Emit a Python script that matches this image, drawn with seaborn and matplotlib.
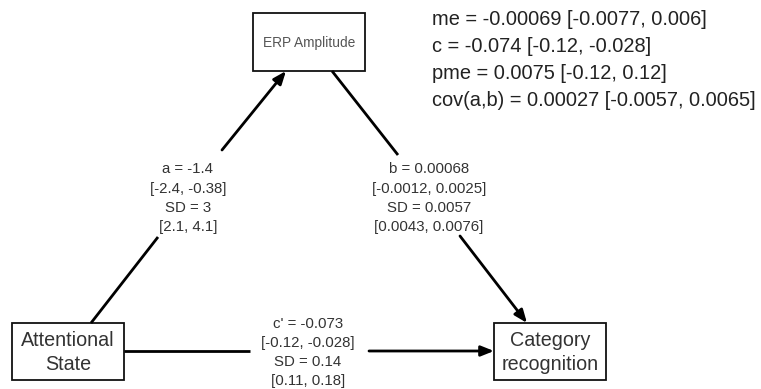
import matplotlib
matplotlib.use("Agg")
import matplotlib.pyplot as plt
import seaborn as sns
from matplotlib.patches import Rectangle

# ---- data ----
node_names = ["ERP Amplitude", "Attentional\nState", "Category\nrecognition"]
edge_a = ["a = -1.4", "[-2.4, -0.38]", "SD = 3", "[2.1, 4.1]"]
edge_b = ["b = 0.00068", "[-0.0012, 0.0025]", "SD = 0.0057", "[0.0043, 0.0076]"]
edge_c = ["c' = -0.073", "[-0.12, -0.028]", "SD = 0.14", "[0.11, 0.18]"]
stats = ["me = -0.00069 [-0.0077, 0.006]",
         "c = -0.074 [-0.12, -0.028]",
         "pme = 0.0075 [-0.12, 0.12]",
         "cov(a,b) = 0.00027 [-0.0057, 0.0065]"]

sns.set_theme(style="white")
plt.rcParams['font.family'] = ['Liberation Sans', 'DejaVu Sans']

W, H = 761, 389
fig = plt.figure(figsize=(W / 100, H / 100), dpi=100)
ax = fig.add_axes([0, 0, 1, 1])
ax.set_xlim(0, W)
ax.set_ylim(H, 0)
ax.axis("off")

# node boxes (x0, y0, x1, y1) in pixel space
boxes = [(253, 13, 365, 71), (12, 323, 124, 380), (494, 323, 606, 380)]
node_fs = [9.9, 14.2, 14.2]
node_col = ["#555555", "#333333", "#333333"]
for (x0, y0, x1, y1), name, fs, col in zip(boxes, node_names, node_fs, node_col):
    ax.add_patch(Rectangle((x0, y0), x1 - x0, y1 - y0, fill=False,
                           edgecolor="#111111", lw=1.3))
    ax.text((x0 + x1) / 2, (y0 + y1) / 2 + 1, name, ha="center", va="center",
            fontsize=fs, color=col, linespacing=1.3)

lw = 2.0
astyle = "-|>,head_length=0.55,head_width=0.22"


def seg(p, q, arrow=False):
    if arrow:
        ax.annotate("", xy=q, xytext=p,
                    arrowprops=dict(arrowstyle=astyle, lw=lw, color="black",
                                    shrinkA=0, shrinkB=0, mutation_scale=14))
    else:
        ax.plot([p[0], q[0]], [p[1], q[1]], color="black", lw=lw,
                solid_capstyle="butt")


# a path
seg((91, 323), (158, 237))
seg((222, 150), (286, 71), arrow=True)
# b path
seg((332, 71), (398, 155))
seg((460, 236), (527, 323), arrow=True)
# c' path
seg((124, 351), (250, 351))
seg((369, 351), (494, 351), arrow=True)

edge_fs = 10.8
for lines, cx, ys in [(edge_a, 188, [169, 189, 208, 227]),
                      (edge_b, 429, [169, 189, 208, 227]),
                      (edge_c, 308, [324, 343, 362, 381])]:
    for t, y in zip(lines, ys):
        ax.text(cx, y, t, ha="center", va="center", fontsize=edge_fs,
                color="#333333")

for i, t in enumerate(stats):
    ax.text(432, 19 + 27.3 * i, t, ha="left", va="center", fontsize=14.4,
            color="#222222")

fig.savefig("out.png", dpi=100)
